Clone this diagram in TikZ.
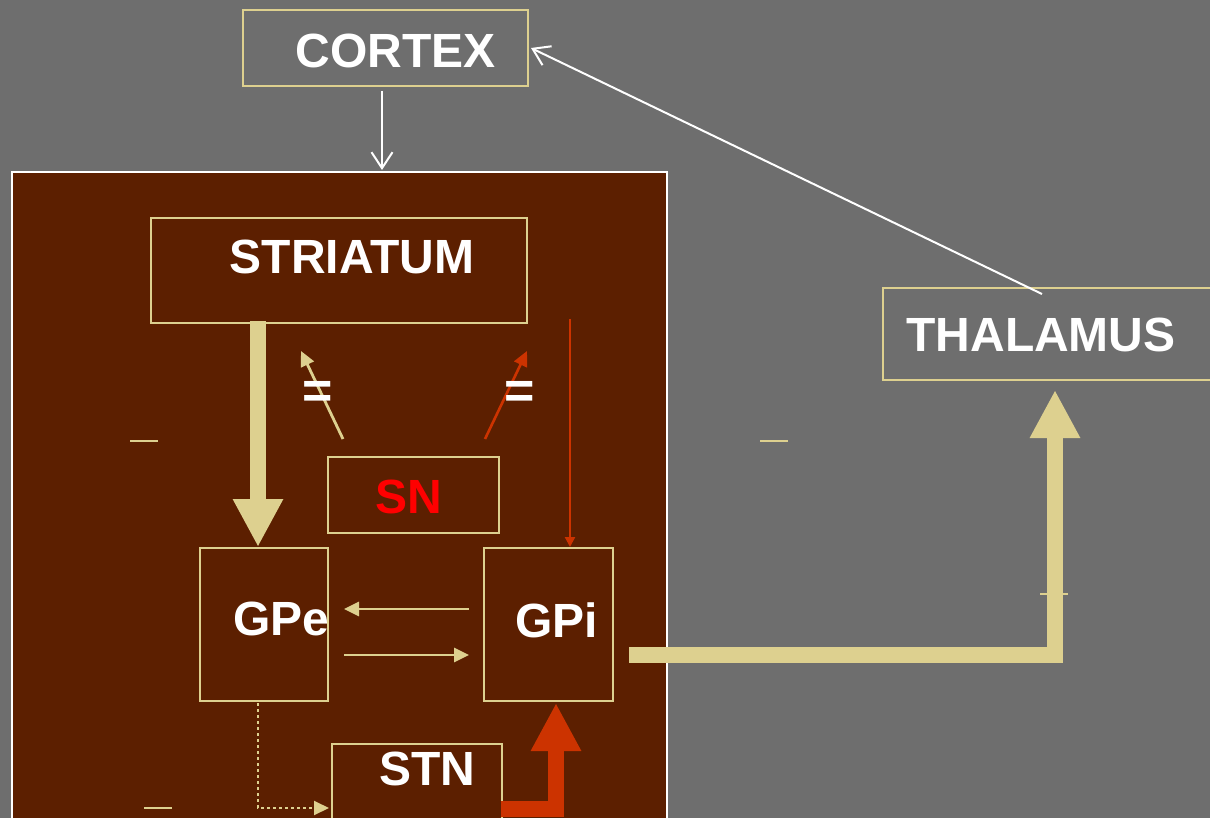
\documentclass[tikz,border=0pt]{standalone}
\usepackage{fontspec}
\setmainfont{Liberation Sans}
\usetikzlibrary{arrows.meta,calc}
\definecolor{bgc}{HTML}{6E6E6E}
\definecolor{Bc}{HTML}{5C1F00}
\definecolor{Tc}{HTML}{DDD08F}
\definecolor{Rc}{HTML}{CC3300}
\definecolor{SNc}{HTML}{FF0000}
\tikzset{
  pxbox/.style 2 args={minimum width=#1*0.5pt, minimum height=#2*0.5pt},
  box/.style={draw=Tc, line width=1pt, inner sep=0pt},
  region/.style={draw=white, fill=Bc, line width=1pt, inner sep=0pt},
  big/.style={text=white, font=\bfseries\fontsize{24}{28}\selectfont, inner sep=0pt},
  wlink/.style={white, line width=1pt, -{Straight Barb[length=8pt, width=10.5pt]}},
  tlink/.style={Tc, line width=1.4pt, -{Triangle[length=7.5pt, width=7pt]}},
  rlink/.style={Rc, line width=1.3pt, -{Triangle[length=7.5pt, width=7pt]}},
  fat/.style={line width=7.8pt, line join=miter, -{Triangle[length=24pt, width=23.5pt]}},
  stray/.style={Tc, line width=1pt},
}

\begin{document}
\begin{tikzpicture}[x=0.5pt, y=-0.5pt]
  \useasboundingbox (0,0) rectangle (1210,818);
  \clip (0,0) rectangle (1210,818);
  \fill[bgc] (0,0) rectangle (1210,818);
  % basal ganglia region
  \node[region, pxbox={655}{664}] (bg) at (339.5,504) {};
  \node[box, pxbox={285}{76}, label={[big, shift={(10,3)}]center:CORTEX}] (cortex) at (385.5,48) {};
  \node[box, pxbox={331}{92}, label={[big, shift={(-7.5,1)}]center:THALAMUS}] (tha) at (1048.5,334) {};
  \node[box, pxbox={376}{105}, label={[big, shift={(13,-14)}]center:STRIATUM}] (str) at (339,270.5) {};
  \node[box, pxbox={171}{76}, label={[big, text=SNc, shift={(-4.5,2)}]center:SN}] (sn) at (413.5,495) {};
  \node[box, pxbox={128}{153}, label={[big, shift={(17.5,-6)}]center:GPe}] (gpe) at (264,624.5) {};
  \node[box, pxbox={129}{153}, label={[big, shift={(8,-4.5)}]center:GPi}] (gpi) at (548.5,624.5) {};
  \node[box, pxbox={170}{86}, label={[big, shift={(10.5,-18)}]center:STN}] (stn) at (417,787) {};
  % cortical loop
  \draw[wlink] ($(cortex.south)+(-3.5,4)$) -- ($(bg.north)+(42.5,-1)$);
  \draw[wlink] ($(tha.north)+(-6.5,7)$) -- ($(cortex.east)+(2,0)$);
  % inside the basal ganglia
  \draw[fat, Tc] ($(str.south)+(-81,-3)$) -- ($(gpe.north)+(-6,0)$);
  \draw[tlink] ($(sn.north)+(-70.5,-17)$) -- ($(str.south)+(-38,27)$);
  \draw[rlink] ($(sn.north)+(71.5,-17)$) -- ($(str.south)+(188,27)$);
  \node[big, font=\bfseries\fontsize{26}{28}\selectfont] (eqa) at (318,395) {=};
  \node[big, font=\bfseries\fontsize{26}{28}\selectfont] (eqb) at (520,395) {=};
  \draw[Rc, line width=1.1pt, -{Triangle[length=5pt, width=5pt]}] ($(gpi.north)+(21.5,-228)$) -- ($(gpi.north)+(21.5,0)$);
  \draw[tlink] ($(gpi.west)+(-14,-15.5)$) -- ($(gpe.east)+(15,-15.5)$);
  \draw[tlink] ($(gpe.east)+(15,30.5)$) -- ($(gpi.west)+(-14,30.5)$);
  \draw[Tc, line width=1pt, dash pattern=on 1.5pt off 1.5pt, -{Triangle[length=7.5pt, width=7pt]}]
    ($(gpe.south)+(-6,1)$) |- ($(stn.west)+(-2,21)$);
  \draw[fat, Rc] ($(stn.east)+(-2,22)$) -| ($(gpi.south)+(7.5,1)$);
  \draw[fat, Tc] ($(gpi.east)+(15,30.5)$) -| ($(tha.south)+(6.5,9)$);
  % stray dashes
  \draw[stray] (130,441) -- (158,441);
  \draw[stray] (760,441) -- (788,441);
  \draw[stray] (1040,594) -- (1068,594);
  \draw[stray] (144,808) -- (172,808);
\end{tikzpicture}
\end{document}
